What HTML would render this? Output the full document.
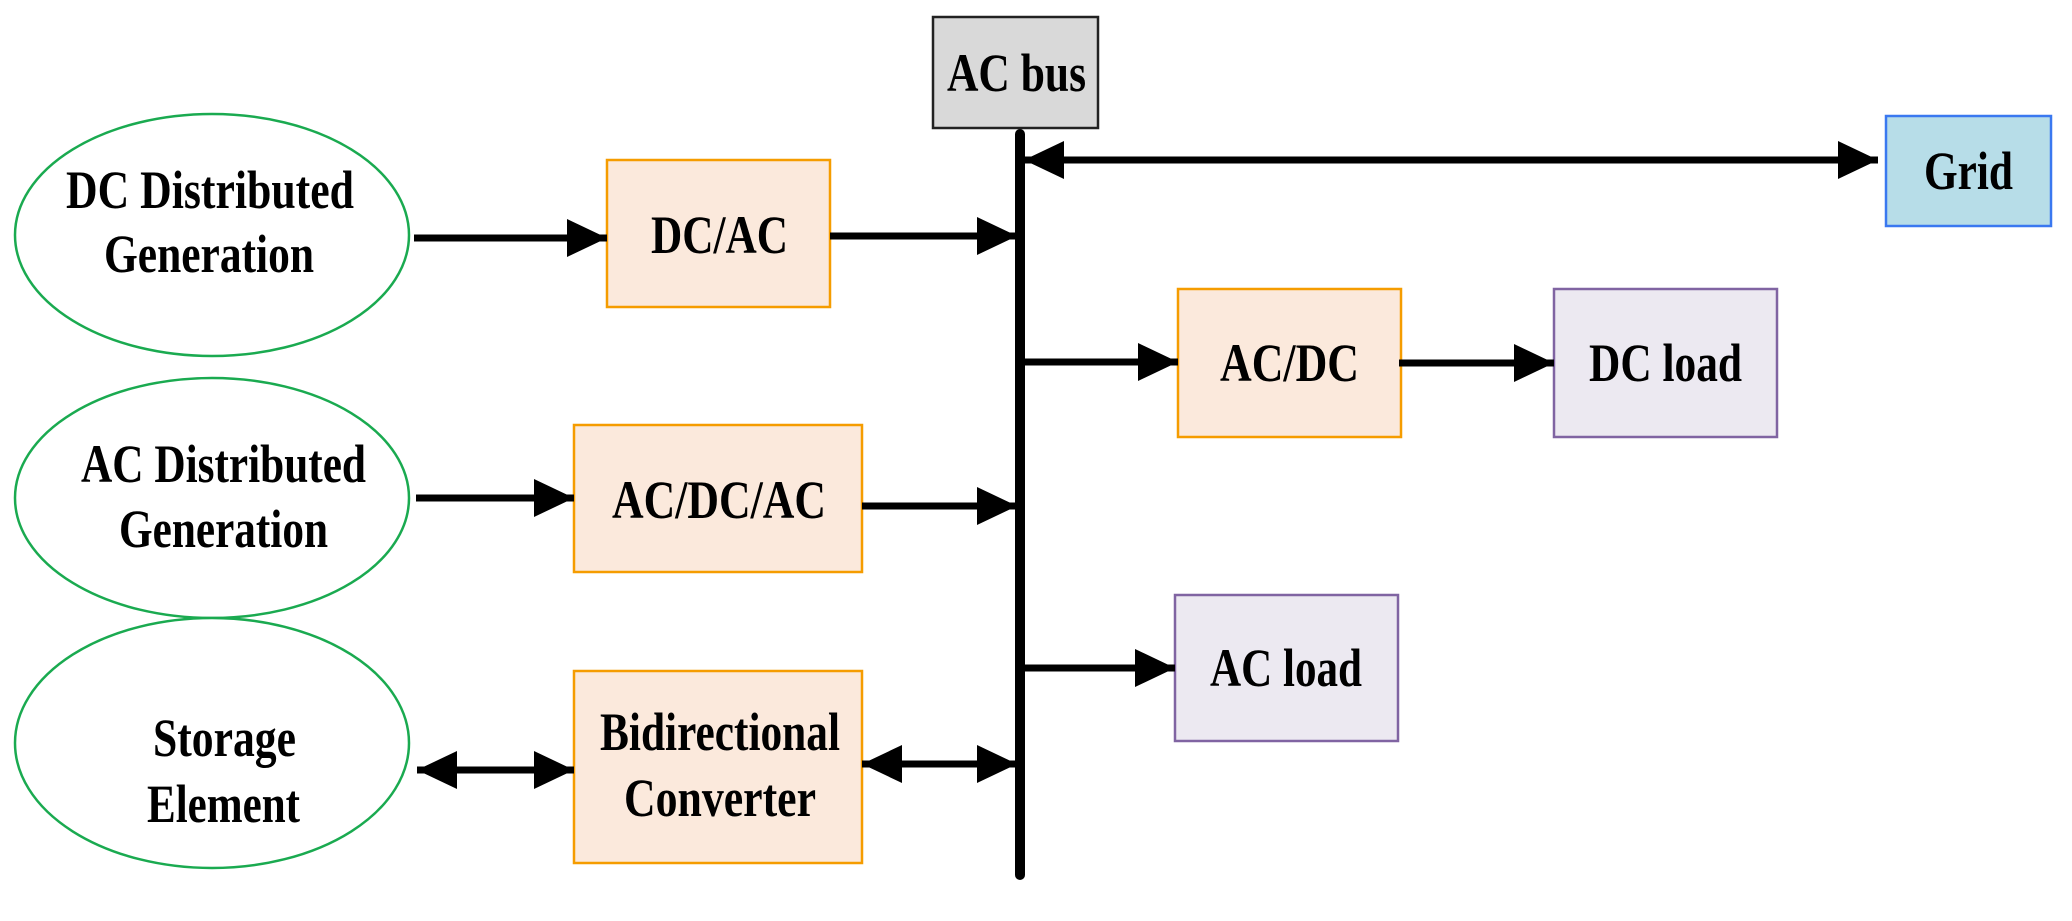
<!DOCTYPE html>
<html><head><meta charset="utf-8"><style>
html,body{margin:0;padding:0;background:#fff;}
svg{display:block;}
text{font-family:"Liberation Serif",serif;font-weight:bold;font-size:54px;fill:#000;}
</style></head><body>
<svg width="2072" height="921" viewBox="0 0 2072 921" xmlns="http://www.w3.org/2000/svg">
<defs>
<marker id="ah" markerWidth="40" markerHeight="38" refX="40" refY="19" orient="auto" markerUnits="userSpaceOnUse">
<path d="M0,0 L40,19 L0,38 Z" fill="#000"/>
</marker>
<marker id="as" markerWidth="40" markerHeight="38" refX="0" refY="19" orient="auto" markerUnits="userSpaceOnUse">
<path d="M40,0 L0,19 L40,38 Z" fill="#000"/>
</marker>
</defs>
<ellipse cx="212" cy="235" rx="197" ry="121" fill="#fff" stroke="#1aaa50" stroke-width="2.5"/>
<ellipse cx="212" cy="498" rx="197" ry="120" fill="#fff" stroke="#1aaa50" stroke-width="2.5"/>
<ellipse cx="212" cy="743" rx="197" ry="125" fill="#fff" stroke="#1aaa50" stroke-width="2.5"/>
<rect x="933" y="17" width="165" height="111" fill="#d9d9d9" stroke="#222" stroke-width="2.5"/>
<rect x="1886" y="116" width="165" height="110" fill="#b7dde8" stroke="#3a78f0" stroke-width="2.5"/>
<rect x="607" y="160" width="223" height="147" fill="#fbe9dc" stroke="#f59c00" stroke-width="2.5"/>
<rect x="574" y="425" width="288" height="147" fill="#fbe9dc" stroke="#f59c00" stroke-width="2.5"/>
<rect x="574" y="671" width="288" height="192" fill="#fbe9dc" stroke="#f59c00" stroke-width="2.5"/>
<rect x="1178" y="289" width="223" height="148" fill="#fbe9dc" stroke="#f59c00" stroke-width="2.5"/>
<rect x="1554" y="289" width="223" height="148" fill="#ece9f1" stroke="#8064a2" stroke-width="2.5"/>
<rect x="1175" y="595" width="223" height="146" fill="#ece9f1" stroke="#8064a2" stroke-width="2.5"/>
<line x1="1020" y1="134" x2="1020" y2="875" stroke="#000" stroke-width="10" stroke-linecap="round"/>
<g stroke="#000" stroke-width="7" fill="none">
<line x1="414" y1="238" x2="607" y2="238" marker-end="url(#ah)"/>
<line x1="830" y1="236" x2="1017" y2="236" marker-end="url(#ah)"/>
<line x1="416" y1="498" x2="574" y2="498" marker-end="url(#ah)"/>
<line x1="862" y1="506" x2="1017" y2="506" marker-end="url(#ah)"/>
<line x1="417" y1="770" x2="574" y2="770" marker-start="url(#as)" marker-end="url(#ah)"/>
<line x1="862" y1="764" x2="1017" y2="764" marker-start="url(#as)" marker-end="url(#ah)"/>
<line x1="1024" y1="160" x2="1878" y2="160" marker-start="url(#as)" marker-end="url(#ah)"/>
<line x1="1020" y1="362" x2="1178" y2="362" marker-end="url(#ah)"/>
<line x1="1399" y1="363" x2="1554" y2="363" marker-end="url(#ah)"/>
<line x1="1020" y1="668" x2="1175" y2="668" marker-end="url(#ah)"/>
</g>
<text x="66" y="208" textLength="288" lengthAdjust="spacingAndGlyphs">DC Distributed</text>
<text x="104" y="272" textLength="210" lengthAdjust="spacingAndGlyphs">Generation</text>
<text x="81" y="482" textLength="285" lengthAdjust="spacingAndGlyphs">AC Distributed</text>
<text x="119" y="547" textLength="209" lengthAdjust="spacingAndGlyphs">Generation</text>
<text x="153" y="756" textLength="143" lengthAdjust="spacingAndGlyphs">Storage</text>
<text x="147" y="822" textLength="153" lengthAdjust="spacingAndGlyphs">Element</text>
<text x="651" y="253" textLength="137" lengthAdjust="spacingAndGlyphs">DC/AC</text>
<text x="612" y="518" textLength="214" lengthAdjust="spacingAndGlyphs">AC/DC/AC</text>
<text x="600" y="750" textLength="240" lengthAdjust="spacingAndGlyphs">Bidirectional</text>
<text x="624" y="816" textLength="192" lengthAdjust="spacingAndGlyphs">Converter</text>
<text x="947" y="91" textLength="139" lengthAdjust="spacingAndGlyphs">AC bus</text>
<text x="1924" y="189" textLength="89" lengthAdjust="spacingAndGlyphs">Grid</text>
<text x="1220" y="381" textLength="139" lengthAdjust="spacingAndGlyphs">AC/DC</text>
<text x="1589" y="381" textLength="153" lengthAdjust="spacingAndGlyphs">DC load</text>
<text x="1210" y="686" textLength="152" lengthAdjust="spacingAndGlyphs">AC load</text>
</svg>
</body></html>
